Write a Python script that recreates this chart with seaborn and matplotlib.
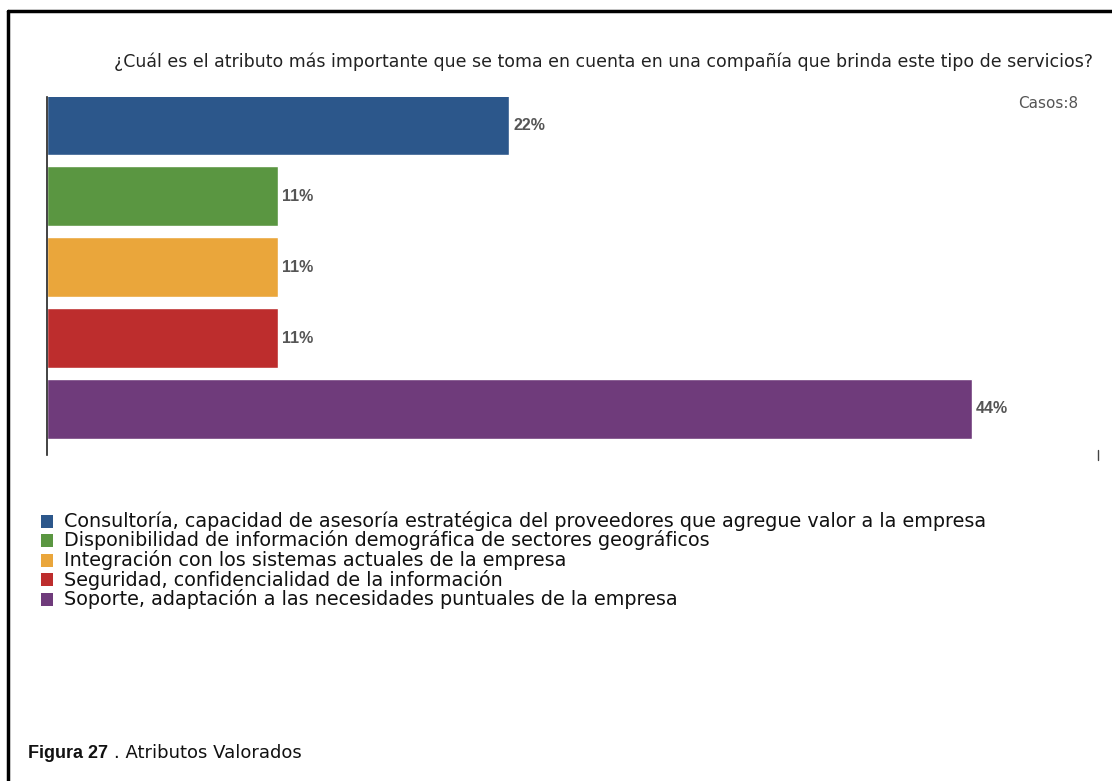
import matplotlib
matplotlib.use("Agg")
import matplotlib.pyplot as plt
from matplotlib.patches import Rectangle
from matplotlib.lines import Line2D
import seaborn as sns
import pandas as pd

# Survey answers and their shares (%)
categories = [
    "Consultoría, capacidad de asesoría estratégica del proveedores que agregue valor a la empresa",
    "Disponibilidad de información demográfica de sectores geográficos",
    "Integración con los sistemas actuales de la empresa",
    "Seguridad, confidencialidad de la información",
    "Soporte, adaptación a las necesidades puntuales de la empresa",
]
values = [22, 11, 11, 11, 44]
value_labels = ["22%", "11%", "11%", "11%", "44%"]
colors = ["#2C578B", "#5A9641", "#EAA63B", "#BD2D2D", "#6F3B7B"]

title = "¿Cuál es el atributo más importante que se toma en cuenta en una compañía que brinda este tipo de servicios?"
cases_text = "Casos:8"

df = pd.DataFrame({"categoria": categories, "valor": values})

sns.set_theme(style="white")
plt.rcParams["font.family"] = ["DejaVu Sans"]

W, H = 1112, 781
fig = plt.figure(figsize=(W / 100, H / 100), dpi=100)


def fx(px):
    return px / W


def fy(py):
    return 1 - py / H


# axes box in pixel coordinates: left 47, right 1098, top 97, bottom 455
ax = fig.add_axes([fx(47), fy(455), (1098 - 47) / W, (455 - 97) / H])

sns.barplot(data=df, x="valor", y="categoria", hue="categoria",
            palette=colors, orient="h", width=0.85, legend=False,
            saturation=1, ax=ax)

ax.set_xlim(0, 50)
ax.set_ylim(4.65, -0.40)
ax.set_xlabel("")
ax.set_ylabel("")
ax.set_xticks([])
ax.set_yticks([])
for s in ["top", "right", "bottom"]:
    ax.spines[s].set_visible(False)
ax.spines["left"].set_color("#222222")
ax.spines["left"].set_linewidth(1.2)

# small tick at the end of the value axis
ax.plot([50, 50], [4.58, 4.72], color="#444444", lw=1, clip_on=False)

for i, (v, lab) in enumerate(zip(values, value_labels)):
    ax.text(v + 0.2, i, lab, va="center", ha="left", fontsize=11.5,
            fontweight="bold", color="#555555", family="Liberation Sans")

fig.text(fx(604), fy(62), title, ha="center", va="center",
         fontsize=12.5, color="#222222")
fig.text(fx(1048), fy(103), cases_text, ha="center", va="center",
         fontsize=11, color="#555555")

# legend: colour squares with the category names
row_y0, row_step = 521, 19.5
for i, (c, name) in enumerate(zip(colors, categories)):
    yc = row_y0 + i * row_step
    fig.add_artist(Rectangle((fx(41), fy(yc + 6.5)), 12 / W, 13 / H,
                             transform=fig.transFigure, facecolor=c,
                             edgecolor="none"))
    fig.text(fx(64), fy(yc), name, ha="left", va="center",
             fontsize=13.8, color="#111111")

# caption below the chart
fig.text(fx(28), fy(753), "Figura 27", ha="left", va="center",
         fontsize=13, fontweight="bold", color="#111111",
         family="Liberation Sans")
fig.text(fx(114), fy(753), ". Atributos Valorados", ha="left", va="center",
         fontsize=13, color="#111111")

# outer frame (top and left edges)
fig.add_artist(Line2D([fx(8), fx(8)], [0, fy(11)], transform=fig.transFigure,
                      color="black", lw=2.5))
fig.add_artist(Line2D([fx(8), 1], [fy(11), fy(11)], transform=fig.transFigure,
                      color="black", lw=2.5))

fig.savefig("out.png", dpi=100)
